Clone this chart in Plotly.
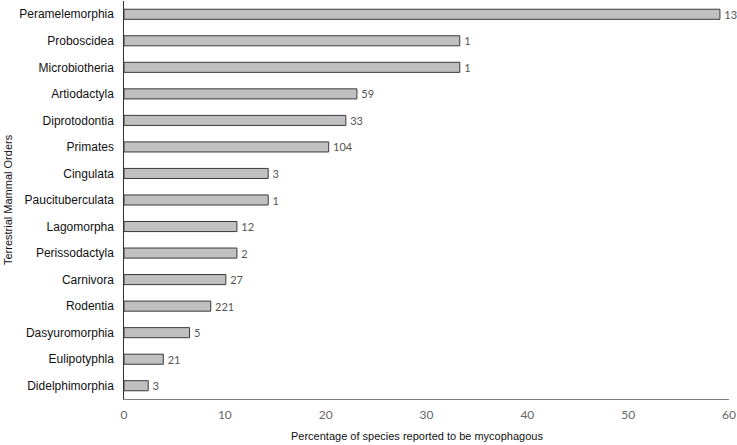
import plotly.graph_objects as go

orders = ["Peramelemorphia", "Proboscidea", "Microbiotheria", "Artiodactyla", "Diprotodontia",
          "Primates", "Cingulata", "Paucituberculata", "Lagomorpha", "Perissodactyla",
          "Carnivora", "Rodentia", "Dasyuromorphia", "Eulipotyphla", "Didelphimorphia"]
percent = [59.1, 33.3, 33.3, 23.1, 22.0, 20.3, 14.3, 14.3, 11.2, 11.2, 10.1, 8.6, 6.5, 3.9, 2.4]
species = [13, 1, 1, 59, 33, 104, 3, 1, 12, 2, 27, 221, 5, 21, 3]
x_ticks = [0, 10, 20, 30, 40, 50, 60]

fig = go.Figure(go.Bar(
    y=orders, x=percent, orientation="h",
    marker=dict(color="#c0c0c0", line=dict(color="#3a3a3a", width=1)),
    text=["\u2009" + str(s) for s in species], textposition="outside",
    textfont=dict(family="Lato", size=11, color="#555555"),
    constraintext="none",
    cliponaxis=False, width=0.38,
))

fig.update_layout(
    width=737, height=445,
    margin=dict(l=124, r=8, t=1, b=46),
    paper_bgcolor="white", plot_bgcolor="white",
    showlegend=False,
    xaxis=dict(range=[0, 60], tickvals=x_ticks, showgrid=False, zeroline=False,
               showline=True, linecolor="#7f7f7f", linewidth=1,
               ticks="outside", ticklen=5, tickcolor="rgba(0,0,0,0)",
               automargin=False,
               tickfont=dict(family="Lato", size=12, color="#666666")),
    yaxis=dict(autorange="reversed", showgrid=False, zeroline=False,
               showline=True, linecolor="#333333", linewidth=1, ticks="",
               ticksuffix="  ", automargin=False,
               tickfont=dict(family="Liberation Sans", size=12, color="#111111")),
    annotations=[
        dict(text="Percentage of species reported to be mycophagous", xref="paper", yref="paper",
             x=(417 - 124) / 605, y=-(436 - 399) / 398, showarrow=False,
             font=dict(family="Liberation Sans", size=11, color="#111111"),
             xanchor="center", yanchor="middle"),
        dict(text="Terrestrial Mammal Orders", xref="paper", yref="paper",
             x=(8 - 124) / 605, y=(399 - 200) / 398, showarrow=False, textangle=-90,
             font=dict(family="Liberation Sans", size=11, color="#111111"),
             xanchor="center", yanchor="middle"),
    ],
)

fig.write_html("out.html", config={"displayModeBar": False},
               post_script="document.body.style.margin='0';document.body.style.overflow='hidden';")
